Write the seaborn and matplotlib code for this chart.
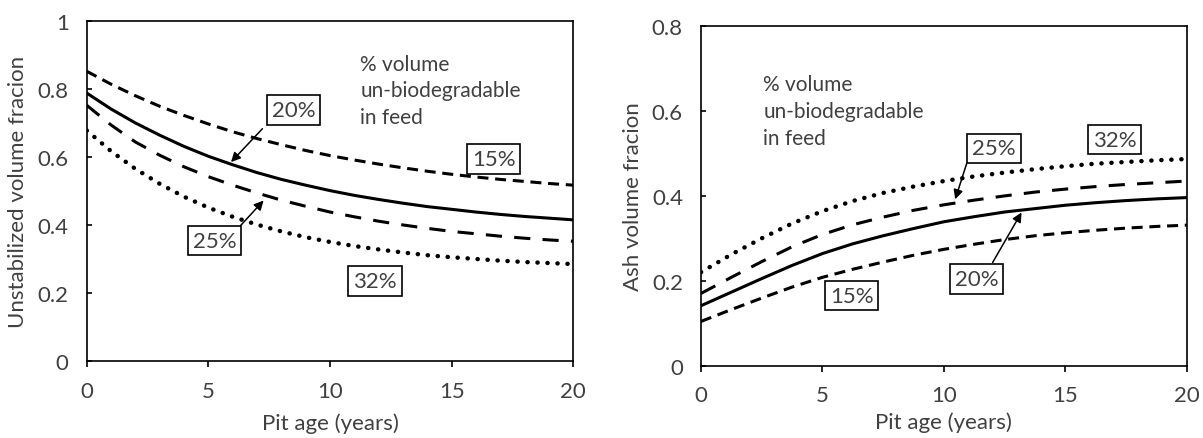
import matplotlib
matplotlib.use("Agg")
import matplotlib.pyplot as plt
import seaborn as sns
import pandas as pd

# ---- data -------------------------------------------------------------
age_left = list(range(0, 21))
unstab_15 = [0.853, 0.815, 0.781, 0.750, 0.723, 0.698, 0.675, 0.655, 0.637, 0.620, 0.605,
             0.592, 0.580, 0.569, 0.559, 0.550, 0.542, 0.535, 0.529, 0.523, 0.518]
unstab_20 = [0.789, 0.742, 0.701, 0.665, 0.632, 0.603, 0.578, 0.555, 0.535, 0.518, 0.502,
             0.488, 0.476, 0.465, 0.455, 0.447, 0.439, 0.432, 0.426, 0.421, 0.416]
unstab_25 = [0.753, 0.695, 0.645, 0.606, 0.572, 0.543, 0.518, 0.495, 0.474, 0.456, 0.439,
             0.425, 0.412, 0.401, 0.391, 0.382, 0.375, 0.368, 0.362, 0.357, 0.353]
unstab_32 = [0.679, 0.618, 0.566, 0.522, 0.484, 0.452, 0.425, 0.402, 0.382, 0.365, 0.351,
             0.339, 0.329, 0.320, 0.312, 0.306, 0.301, 0.296, 0.292, 0.289, 0.286]

age_right = [0, 1.25, 2.5, 3.75, 5, 6.25, 7.5, 8.75, 10,
             11.25, 12.5, 13.75, 15, 16.25, 17.5, 18.75, 20]
ash_15 = [0.104, 0.132, 0.159, 0.185, 0.208, 0.227, 0.244, 0.260, 0.274,
          0.286, 0.297, 0.306, 0.313, 0.319, 0.324, 0.328, 0.331]
ash_20 = [0.141, 0.173, 0.205, 0.236, 0.264, 0.287, 0.306, 0.323, 0.339,
          0.351, 0.362, 0.370, 0.378, 0.384, 0.389, 0.393, 0.396]
ash_25 = [0.170, 0.208, 0.245, 0.280, 0.309, 0.332, 0.350, 0.366, 0.379,
          0.390, 0.400, 0.409, 0.416, 0.422, 0.427, 0.431, 0.435]
ash_32 = [0.220, 0.262, 0.300, 0.335, 0.364, 0.388, 0.407, 0.422, 0.435,
          0.446, 0.455, 0.463, 0.470, 0.476, 0.480, 0.484, 0.487]

feed_labels = ["15%", "20%", "25%", "32%"]
note_lines = ["% volume", "un-biodegradable", "in feed"]

x_ticks = [0, 5, 10, 15, 20]
left_yticks = [0, 0.2, 0.4, 0.6, 0.8, 1]
left_yticklabels = ["0", "0.2", "0.4", "0.6", "0.8", "1"]
right_yticks = [0, 0.2, 0.4, 0.6, 0.8]
right_yticklabels = ["0", "0.2", "0.4", "0.6", "0.8"]

# ---- style ------------------------------------------------------------
sns.set_theme(style="white")
plt.rcParams["font.family"] = ["Lato", "DejaVu Sans"]
TXT = "#404040"

line_styles = {
    "15%": dict(lw=2.2, linestyle=(0, (3.6, 2.2))),
    "20%": dict(lw=2.2, linestyle="-"),
    "25%": dict(lw=2.2, linestyle=(0, (5.3, 4.0))),
    "32%": dict(lw=3.2, linestyle=(0, (0.05, 2.2)), dash_capstyle="round"),
}

fig = plt.figure(figsize=(12.03, 4.39), dpi=100)
ax1 = fig.add_axes([0.0721, 0.1747, 0.4045, 0.7745])
ax2 = fig.add_axes([0.5827, 0.1651, 0.4037, 0.7727])


def draw_series(ax, x, series):
    for lab, vals in zip(feed_labels, series):
        df = pd.DataFrame({"age": x, "frac": vals})
        sns.lineplot(data=df, x="age", y="frac", ax=ax, color="black",
                     legend=False, **line_styles[lab])


draw_series(ax1, age_left, [unstab_15, unstab_20, unstab_25, unstab_32])
draw_series(ax2, age_right, [ash_15, ash_20, ash_25, ash_32])


def style_axes(ax, yticks, yticklabels, ylim, ylabel, ylabel_x, xlabelpad):
    ax.set_xlim(0, 20)
    ax.set_ylim(*ylim)
    ax.set_xticks(x_ticks)
    ax.set_xticklabels([str(t) for t in x_ticks])
    ax.set_yticks(yticks)
    ax.set_yticklabels(yticklabels)
    for s in ax.spines.values():
        s.set_color("black")
        s.set_linewidth(1.2)
        s.set_visible(True)
    ax.tick_params(axis="x", direction="out", length=4.3, width=1.2,
                   color="black", labelsize=16, labelcolor=TXT, pad=10,
                   bottom=True)
    ax.tick_params(axis="y", direction="in", length=3.5, width=1.2,
                   color="black", labelsize=16, labelcolor=TXT, pad=13,
                   left=True)
    ax.set_xlabel("Pit age (years)", fontsize=16, color=TXT,
                  labelpad=xlabelpad)
    ax.set_ylabel(ylabel, fontsize=16, color=TXT)
    ax.yaxis.set_label_coords(ylabel_x, 0.5)
    ax.grid(False)
    ax.set_facecolor("white")


style_axes(ax1, left_yticks, left_yticklabels, (0, 1),
           "Unstabilized volume fracion", -0.12, 8)
style_axes(ax2, right_yticks, right_yticklabels, (0, 0.8),
           "Ash volume fracion", -0.12, 4)

box = dict(boxstyle="square,pad=0.22", fc="white", ec="black", lw=1.2)
arrow = dict(arrowstyle="-|>", color="black", lw=1.1, mutation_scale=14,
             shrinkA=0, shrinkB=0)


def label_box(ax, text, xy, xytext=None):
    if xytext is None:
        ax.text(xy[0], xy[1], text, ha="center", va="center", fontsize=16,
                color=TXT, bbox=box)
    else:
        ax.annotate(text, xy=xy, xytext=xytext[0], ha="center", va="center",
                    fontsize=16, color=TXT, bbox=box)
        ax.annotate("", xy=xy, xytext=xytext[1], arrowprops=arrow)


# left panel labels
label_box(ax1, "20%", (5.93, 0.586), ((8.51, 0.740), (7.22, 0.684)))
label_box(ax1, "15%", (16.72, 0.596))
label_box(ax1, "25%", (7.27, 0.473), ((5.25, 0.355), (6.32, 0.399)))
label_box(ax1, "32%", (11.84, 0.237))
for line, yv in zip(note_lines, [0.875, 0.797, 0.718]):
    ax1.text(11.24, yv, line, ha="left", va="center", fontsize=15, color=TXT)

# right panel labels
label_box(ax2, "25%", (10.47, 0.392), ((12.06, 0.512), (10.95, 0.478)))
label_box(ax2, "32%", (17.04, 0.533))
label_box(ax2, "20%", (13.2, 0.361), ((11.34, 0.204), (12.01, 0.243)))
label_box(ax2, "15%", (6.2, 0.165))
for line, yv in zip(note_lines, [0.663, 0.600, 0.537]):
    ax2.text(2.56, yv, line, ha="left", va="center", fontsize=15, color=TXT)

fig.savefig("out.png", dpi=100, facecolor="white")
